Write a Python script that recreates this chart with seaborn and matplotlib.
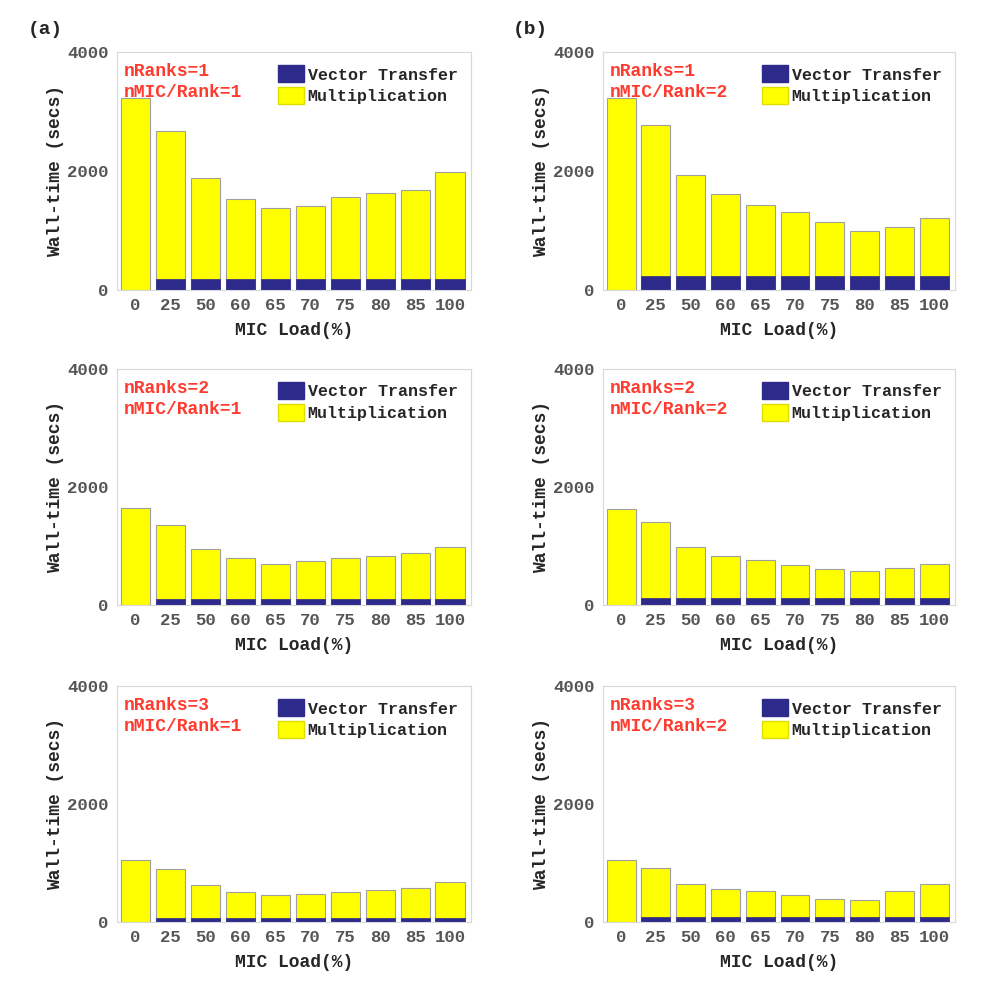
import matplotlib
matplotlib.use("Agg")
import matplotlib.pyplot as plt
import seaborn as sns
import pandas as pd
from matplotlib.patches import Patch

sns.set_style("white")
plt.rcParams["font.family"] = ["Liberation Mono", "DejaVu Sans Mono"]
plt.rcParams["font.weight"] = "bold"

loads = ["0", "25", "50", "60", "65", "70", "75", "80", "85", "100"]

# total wall-time (top of yellow bar) and vector-transfer part, per panel
total_r1_m1 = [3220, 2670, 1880, 1530, 1380, 1410, 1560, 1630, 1680, 1980]
total_r1_m2 = [3230, 2770, 1930, 1610, 1430, 1310, 1140, 990, 1060, 1210]
total_r2_m1 = [1640, 1360, 950, 790, 700, 740, 800, 830, 880, 990]
total_r2_m2 = [1630, 1400, 990, 830, 770, 680, 610, 570, 630, 690]
total_r3_m1 = [1050, 890, 630, 510, 450, 470, 510, 540, 570, 680]
total_r3_m2 = [1045, 915, 650, 555, 525, 460, 395, 375, 525, 640]

vec_r1 = [0, 190, 190, 190, 190, 190, 190, 190, 190, 190]
vec_r1_m2 = [0, 235, 235, 235, 235, 235, 235, 235, 235, 235]
vec_r2 = [0, 110, 110, 110, 110, 110, 110, 110, 110, 110]
vec_r2_m2 = [0, 115, 115, 120, 115, 115, 120, 115, 115, 120]
vec_r3 = [0, 65, 65, 65, 65, 65, 65, 65, 65, 65]
vec_r3_m2 = [0, 85, 80, 80, 85, 80, 80, 80, 80, 80]

panels = [
    ("nRanks=1\nnMIC/Rank=1", total_r1_m1, vec_r1),
    ("nRanks=1\nnMIC/Rank=2", total_r1_m2, vec_r1_m2),
    ("nRanks=2\nnMIC/Rank=1", total_r2_m1, vec_r2),
    ("nRanks=2\nnMIC/Rank=2", total_r2_m2, vec_r2_m2),
    ("nRanks=3\nnMIC/Rank=1", total_r3_m1, vec_r3),
    ("nRanks=3\nnMIC/Rank=2", total_r3_m2, vec_r3_m2),
]

yellow = "#FFFF00"
navy = "#2E2A8C"

W, H = 984, 981
fig = plt.figure(figsize=(W / 100, H / 100), dpi=100)

lefts = [117, 603]
widths = [354, 352]
tops = [52, 369, 686]
heights = [238, 236, 236]

for i, (note, total, vec) in enumerate(panels):
    row, col = divmod(i, 2)
    ax = fig.add_axes([lefts[col] / W, 1 - (tops[row] + heights[row]) / H,
                       widths[col] / W, heights[row] / H])
    df = pd.DataFrame({"load": loads, "total": total, "vec": vec})
    sns.barplot(data=df, x="load", y="total", order=loads, color=yellow,
                saturation=1, width=0.83, edgecolor="#a0a0a0", linewidth=0.8, ax=ax)
    sns.barplot(data=df, x="load", y="vec", order=loads, color=navy,
                saturation=1, width=0.83, edgecolor=navy, linewidth=0.5, ax=ax)
    ax.set_xlim(-0.52, 9.6)
    ax.set_ylim(0, 4000)
    ax.set_yticks([0, 2000, 4000])
    ax.tick_params(axis="both", length=0, labelsize=12.5, colors="#555555", pad=6)
    for lab in ax.get_xticklabels() + ax.get_yticklabels():
        lab.set_fontweight("bold")
    ax.set_xlabel("MIC Load(%)", fontsize=13, fontweight="bold", labelpad=6)
    ax.set_ylabel("Wall-time (secs)", fontsize=13, fontweight="bold", labelpad=2)
    for s in ax.spines.values():
        s.set_color("#d8d8d8")
        s.set_linewidth(0.8)
    ax.text(0.02, 0.955, note, transform=ax.transAxes, color="#ff3b2f",
            fontsize=13, fontweight="bold", va="top", ha="left", linespacing=1.3)
    handles = [Patch(facecolor=navy, edgecolor=navy, label="Vector Transfer"),
               Patch(facecolor=yellow, edgecolor="#dddd00", label="Multiplication")]
    ax.legend(handles=handles, loc="upper right", bbox_to_anchor=(1.0, 1.0),
              frameon=False, handlelength=1.6, handleheight=1.2,
              handletextpad=0.2, labelspacing=0.25, borderaxespad=0.4,
              prop={"weight": "bold", "size": 12})

fig.text(28 / W, 1 - 30 / H, "(a)", fontsize=14, fontweight="bold", va="center")
fig.text(513 / W, 1 - 30 / H, "(b)", fontsize=14, fontweight="bold", va="center")

fig.savefig("out.png", dpi=100, facecolor="white")
